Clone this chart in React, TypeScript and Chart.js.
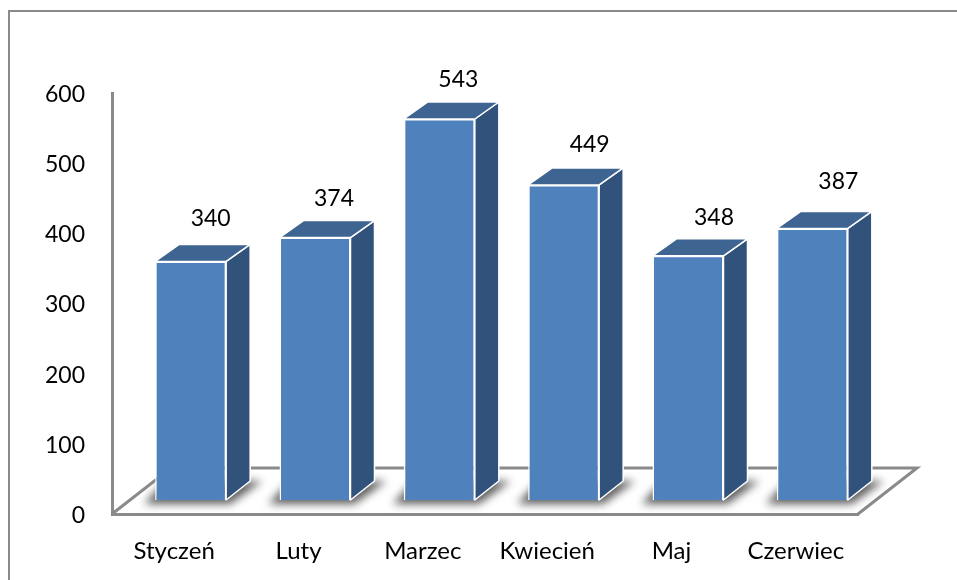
import React, { useEffect, useRef } from "react";
import { Chart, registerables } from "chart.js";

Chart.register(...registerables);

const categories = ["Styczeń", "Luty", "Marzec", "Kwiecień", "Maj", "Czerwiec"];
const values = [340, 374, 543, 449, 348, 387];
const yTicks = [0, 100, 200, 300, 400, 500, 600];

const FONT = "Lato, Carlito, Calibri, sans-serif";
const SHIFT_X = 16.5;
const SHIFT_Y = -14;
const DEPTH_X = 24;
const DEPTH_Y = 17;
const labelNudge = [
  [20, -43],
  [19, -39],
  [19, -39],
  [26, -40],
  [26, -38],
  [26, -47],
];

const scene = {
  id: "scene",
  beforeDatasetsDraw(chart: any) {
    const { ctx, chartArea: a } = chart;
    const meta = chart.getDatasetMeta(0);
    ctx.save();
    // picture frame: only the left and top edges show
    ctx.strokeStyle = "#8a8a8a";
    ctx.lineWidth = 2;
    ctx.beginPath();
    ctx.moveTo(9, 580);
    ctx.lineTo(9, 11);
    ctx.lineTo(957, 11);
    ctx.stroke();
    // floor
    ctx.lineWidth = 3;
    ctx.lineJoin = "miter";
    ctx.beginPath();
    ctx.moveTo(a.left, a.bottom);
    ctx.lineTo(a.left + 59, a.bottom - 46);
    ctx.lineTo(a.right + 59, a.bottom - 46);
    ctx.lineTo(a.right, a.bottom);
    ctx.stroke();
    // soft shadows on the floor
    ctx.filter = "blur(4px)";
    ctx.fillStyle = "#5f5f5f";
    meta.data.forEach((bar: any) => {
      const l = bar.x - bar.width / 2 + SHIFT_X;
      const r = bar.x + bar.width / 2 + SHIFT_X;
      const b = a.bottom + SHIFT_Y;
      ctx.beginPath();
      ctx.moveTo(l - 11, b + 4);
      ctx.lineTo(r + 4, b + 4);
      ctx.lineTo(r + DEPTH_X + 12, b - DEPTH_Y - 2);
      ctx.lineTo(l + 10, b - DEPTH_Y - 2);
      ctx.closePath();
      ctx.fill();
    });
    ctx.restore();
    ctx.save();
    ctx.translate(SHIFT_X, SHIFT_Y);
  },
  afterDatasetsDraw(chart: any) {
    const { ctx, chartArea: a } = chart;
    const meta = chart.getDatasetMeta(0);
    meta.data.forEach((bar: any) => {
      const l = bar.x - bar.width / 2;
      const r = bar.x + bar.width / 2;
      const t = bar.y;
      const b = a.bottom;
      ctx.strokeStyle = "#ffffff";
      ctx.lineWidth = 1.5;
      ctx.lineJoin = "round";
      ctx.fillStyle = "#31527a";
      ctx.beginPath();
      ctx.moveTo(r, t);
      ctx.lineTo(r + DEPTH_X, t - DEPTH_Y);
      ctx.lineTo(r + DEPTH_X, b - DEPTH_Y - 2);
      ctx.lineTo(r, b);
      ctx.closePath();
      ctx.fill();
      ctx.stroke();
      ctx.fillStyle = "#3e6491";
      ctx.beginPath();
      ctx.moveTo(l, t);
      ctx.lineTo(l + DEPTH_X, t - DEPTH_Y);
      ctx.lineTo(r + DEPTH_X, t - DEPTH_Y);
      ctx.lineTo(r, t);
      ctx.closePath();
      ctx.fill();
      ctx.stroke();
    });
    ctx.restore();
    ctx.save();
    ctx.fillStyle = "#000000";
    ctx.font = `23px ${FONT}`;
    ctx.textAlign = "center";
    ctx.textBaseline = "middle";
    meta.data.forEach((bar: any, i: number) => {
      ctx.fillText(
        String(values[i]),
        bar.x + SHIFT_X + labelNudge[i][0],
        bar.y + SHIFT_Y + labelNudge[i][1]
      );
    });
    ctx.restore();
  },
};

export default function App() {
  const ref = useRef<HTMLCanvasElement>(null);
  useEffect(() => {
    document.body.style.margin = "0";
    const chart = new Chart(ref.current!, {
      type: "bar",
      data: {
        labels: categories,
        datasets: [
          {
            data: values,
            backgroundColor: "#4f81bd",
            borderColor: "#ffffff",
            borderWidth: 1.5,
            barPercentage: 0.571,
            categoryPercentage: 1,
          },
        ],
      },
      plugins: [scene],
      options: {
        animation: false,
        responsive: false,
        layout: { padding: { top: 93, right: 99, left: 0, bottom: 0 } },
        plugins: { legend: { display: false }, tooltip: { enabled: false } },
        scales: {
          x: {
            grid: { display: false, drawTicks: false },
            border: { color: "#8a8a8a", width: 3 },
            ticks: {
              color: "#000000",
              font: { family: FONT, size: 24 },
              padding: 23,
              maxRotation: 0,
              autoSkip: false,
            },
            afterFit: (s: any) => {
              s.height = 66;
            },
          },
          y: {
            min: 0,
            max: 600,
            afterBuildTicks: (s: any) => {
              s.ticks = yTicks.map((value) => ({ value }));
            },
            grid: { display: false, drawTicks: false },
            border: { color: "#8a8a8a", width: 3 },
            ticks: {
              color: "#000000",
              font: { family: FONT, size: 23 },
              padding: 27,
              labelOffset: 1.5,
            },
            afterFit: (s: any) => {
              s.width = 112;
            },
          },
        },
      },
    });
    return () => chart.destroy();
  }, []);
  return (
    <canvas
      ref={ref}
      width={957}
      height={580}
      style={{ display: "block", width: 957, height: 580 }}
    />
  );
}
